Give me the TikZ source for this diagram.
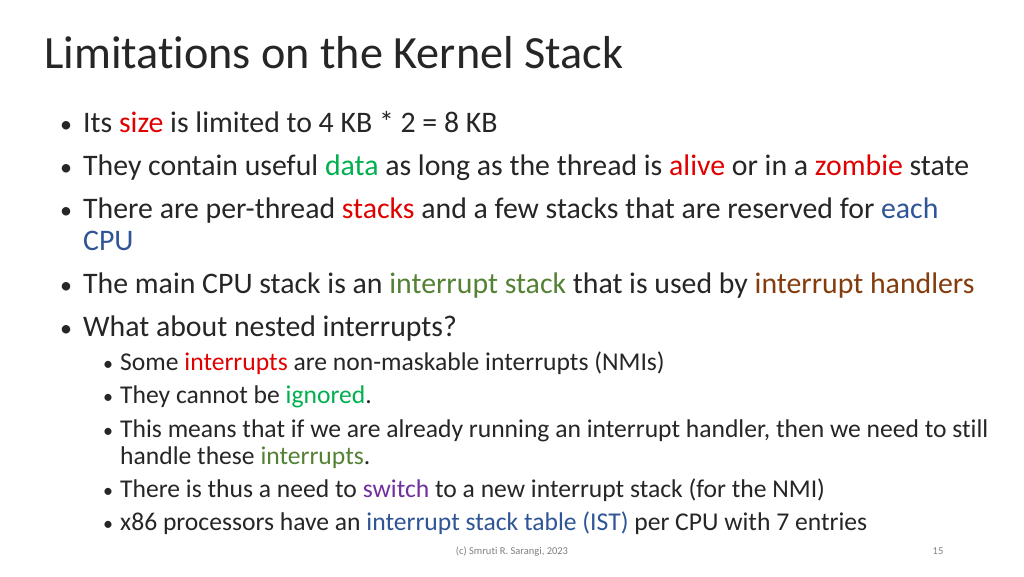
\documentclass[tikz,border=0pt]{standalone}
\usepackage{fontspec}
\setmainfont[Ligatures=NoCommon]{Carlito}
\definecolor{cred}{HTML}{E00000}
\definecolor{cgreen}{HTML}{00B050}
\definecolor{cblue}{HTML}{2F5597}
\definecolor{colive}{HTML}{548235}
\definecolor{cbrown}{HTML}{843C0C}
\definecolor{cpurple}{HTML}{7030A0}
\definecolor{ctext}{HTML}{262626}
\begin{document}
\begin{tikzpicture}[x=1pt,y=1pt,
  lone/.style={anchor=base west,inner sep=0,font=\fontsize{29.8}{34}\selectfont,text=ctext},
  ltwo/.style={anchor=base west,inner sep=0,font=\fontsize{25.6}{30}\selectfont,text=ctext},
  bone/.style={anchor=base west,inner sep=0,font=\fontsize{24}{28}\selectfont,text=ctext},
  btwo/.style={anchor=base west,inner sep=0,font=\fontsize{20}{24}\selectfont,text=ctext}]
\useasboundingbox[fill=white] (0,0) rectangle (1024,-576);
\node[anchor=base west,inner sep=0,font=\fontsize{46.2}{52}\selectfont,text=ctext] (title) at (44,-68) {Limitations on the Kernel Stack};
\foreach \y/\n in {132/a,175/b,218/c,293/d,336/e}{\node[bone] (b\n) at (60,-\y) {•};}
\node[lone] (t1) at (83,-132) {Its \textcolor{cred}{size} is limited to 4 KB * 2 = 8 KB};
\node[lone] (t2) at (83,-175) {They contain useful \textcolor{cgreen}{data} as long as the thread is \textcolor{cred}{alive} or in a \textcolor{cred}{zombie} state};
\node[lone] (t3) at (83,-218) {There are per-thread \textcolor{cred}{stacks} and a few stacks that are reserved for \textcolor{cblue}{each}};
\node[lone] (t3b) at (83,-250) {\textcolor{cblue}{CPU}};
\node[lone] (t4) at (83,-293) {The main CPU stack is an \textcolor{colive}{interrupt stack} that is used by \textcolor{cbrown}{interrupt handlers}};
\node[lone] (t5) at (83,-336) {What about nested interrupts?};
\foreach \y/\n in {370/a,403/b,437/c,497/d,530/e}{\node[btwo] (s\n) at (103,-\y) {•};}
\node[ltwo] (u1) at (120,-370) {Some \textcolor{cred}{interrupts} are non-maskable interrupts (NMIs)};
\node[ltwo] (u2) at (120,-403) {They cannot be \textcolor{cgreen}{ignored}.};
\node[ltwo] (u3) at (120,-437) {This means that if we are already running an interrupt handler, then we need to still};
\node[ltwo] (u3b) at (120,-464) {handle these \textcolor{colive}{interrupts}.};
\node[ltwo] (u4) at (120,-497) {There is thus a need to \textcolor{cpurple}{switch} to a new interrupt stack (for the NMI)};
\node[ltwo] (u5) at (120,-530) {x86 processors have an \textcolor{cblue}{interrupt stack table (IST)} per CPU with 7 entries};
\node[anchor=base,inner sep=0,font=\fontsize{10.5}{12}\selectfont,text=gray] (foot) at (512,-554) {(c) Smruti R. Sarangi, 2023};
\node[anchor=base,inner sep=0,font=\fontsize{10.5}{12}\selectfont,text=gray] (pg) at (938,-554) {15};
\end{tikzpicture}
\end{document}
